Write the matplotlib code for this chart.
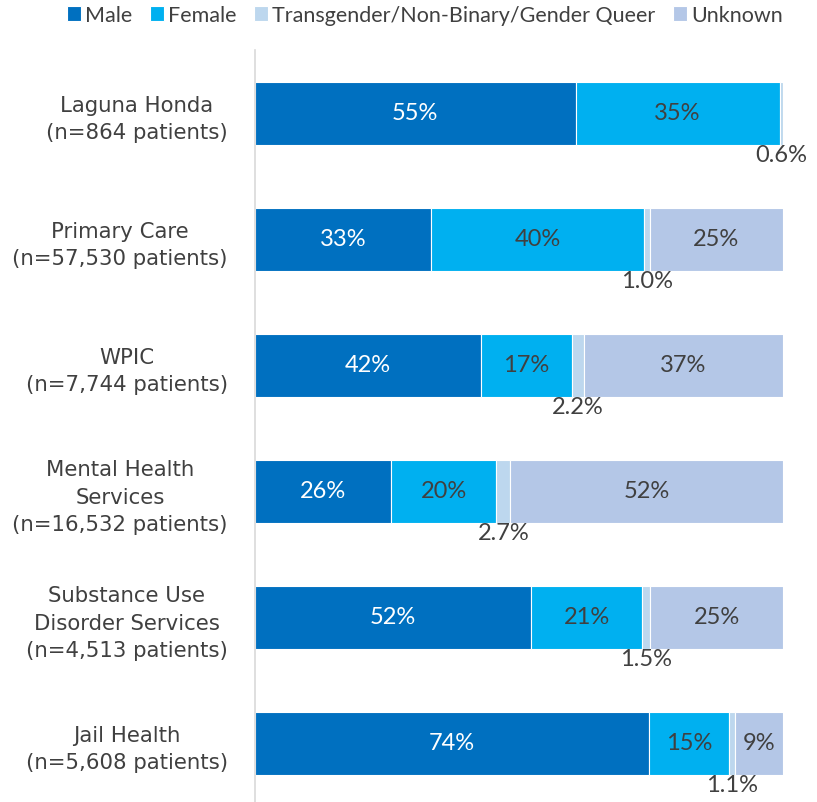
import matplotlib.pyplot as plt
import numpy as np

plt.rcParams['font.family'] = ['Lato', 'DejaVu Sans']

categories = ['Laguna Honda\n(n=864 patients)',
              'Primary Care\n(n=57,530 patients)',
              'WPIC\n(n=7,744 patients)',
              'Mental Health\nServices\n(n=16,532 patients)',
              'Substance Use\nDisorder Services\n(n=4,513 patients)',
              'Jail Health\n(n=5,608 patients)']
series = ['Male', 'Female', 'Transgender/Non-Binary/Gender Queer', 'Unknown']
male = [55, 33, 42, 26, 52, 74]
female = [35, 40, 17, 20, 21, 15]
trans = [0.6, 1.0, 2.2, 2.7, 1.5, 1.1]
unknown = [0, 25, 37, 52, 25, 9]
labels = [['55%', '33%', '42%', '26%', '52%', '74%'],
          ['35%', '40%', '17%', '20%', '21%', '15%'],
          ['0.6%', '1.0%', '2.2%', '2.7%', '1.5%', '1.1%'],
          ['', '25%', '37%', '52%', '25%', '9%']]

colors = ['#0070C0', '#00B0F0', '#BDD7EE', '#B4C7E7']
textColors = ['white', '#404040', '#404040', '#404040']

figureWidth = 8.17
figureHeight = 8.03
fig = plt.figure(figsize=(figureWidth, figureHeight), dpi=100)

# left, bottom, width, height (pixels converted to fractions)
ax = fig.add_axes([255/817, -4/803, 528/817, 756/803])

data = np.array([male, female, trans, unknown], dtype=float)
totals = data.sum(axis=0)
frac = data / totals
y = np.arange(len(categories))

left = np.zeros(len(categories))
for i in range(len(series)):
    ax.barh(y, frac[i], left=left, height=0.5, color=colors[i],
            edgecolor='white', linewidth=0.8, label=series[i])
    for j in range(len(categories)):
        if data[i, j] == 0:
            continue
        xc = left[j] + frac[i, j] / 2
        if i == 2:
            ax.text(xc, y[j] + 0.25, labels[i][j], ha='center', va='top',
                    fontsize=17, color='#404040')
        else:
            ax.text(xc, y[j], labels[i][j], ha='center', va='center',
                    fontsize=17, color=textColors[i])
    left = left + frac[i]

ax.set_xlim(0, 1)
ax.set_ylim(len(categories) - 0.5, -0.5)
ax.set_yticks(y)
ax.set_yticklabels(categories, fontsize=15.3, color='#404040',
                   multialignment='center', family='DejaVu Sans',
                   linespacing=1.45)
ax.tick_params(axis='y', length=0, pad=19.5)
ax.set_xticks([])
for s in ['top', 'right', 'bottom']:
    ax.spines[s].set_visible(False)
ax.spines['left'].set_color('#D9D9D9')
ax.spines['left'].set_linewidth(1.2)

fig.legend(loc='center', bbox_to_anchor=(0.52, 0.98), ncol=4, frameon=False,
           fontsize=15.5, handlelength=0.65, handleheight=0.65, handletextpad=0.2,
           columnspacing=0.8, labelcolor='#404040', borderpad=0)

plt.savefig('out.png', dpi=100)
